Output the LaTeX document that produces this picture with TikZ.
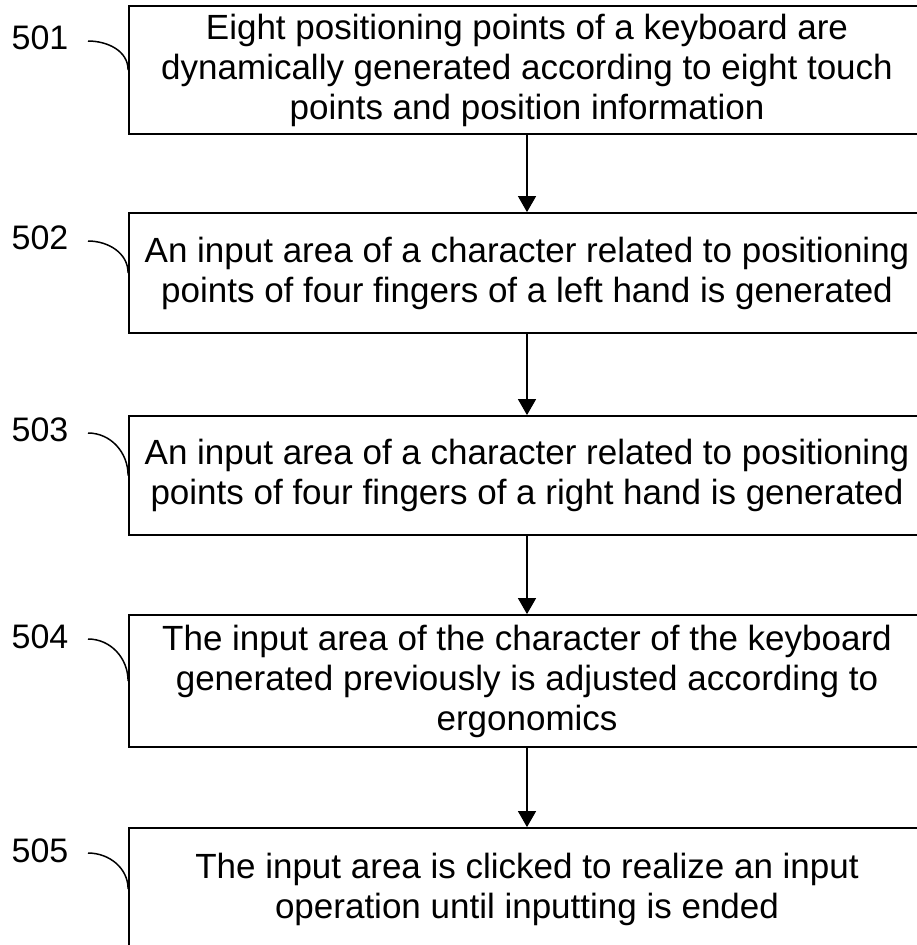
\documentclass[tikz,border=0pt]{standalone}
\usepackage{fontspec}
\setmainfont{Liberation Sans}
\usetikzlibrary{arrows.meta}

\begin{document}
\begin{tikzpicture}[x=1pt,y=-1pt,
  stepbox/.style={draw,line width=1.8pt,minimum width=796pt,align=center,inner sep=0pt,
    font=\fontsize{35}{40}\selectfont},
  steplabel/.style={font=\fontsize{34}{40}\selectfont},
  flow/.style={line width=1.3pt,-{Triangle[length=16pt,width=18pt]}},
  lead/.style={line width=1.5pt}]
\useasboundingbox (0,0) rectangle (916,945);

\node[stepbox,minimum height=128pt] (s1) at (527,70) {Eight positioning points of a keyboard are\\dynamically generated according to eight touch\\points and position information};
\node[stepbox,minimum height=120pt] (s2) at (527,273) {An input area of a character related to positioning\\points of four fingers of a left hand is generated};
\node[stepbox,minimum height=119pt] (s3) at (527,475.5) {An input area of a character related to positioning\\points of four fingers of a right hand is generated};
\node[stepbox,minimum height=132pt] (s4) at (527,681) {The input area of the character of the keyboard\\generated previously is adjusted according to\\ergonomics};
\node[stepbox,minimum height=122pt] (s5) at (527,889) {The input area is clicked to realize an input\\operation until inputting is ended};

\draw[flow] (s1) -- (s2);
\draw[flow] (s2) -- (s3);
\draw[flow] (s3) -- (s4);
\draw[flow] (s4) -- (s5);

\node[steplabel] (l1) at (40,38) {501};
\node[steplabel] (l2) at (40,238) {502};
\node[steplabel] (l3) at (40,430) {503};
\node[steplabel] (l4) at (40,637) {504};
\node[steplabel] (l5) at (40,851) {505};

\coordinate (c1) at (88,41);
\coordinate (c2) at (88,241);
\coordinate (c3) at (88,433);
\coordinate (c4) at (88,639);
\coordinate (c5) at (88,853);

\draw[lead] (c1) to[out=0,in=90] (s1.west);
\draw[lead] (c2) to[out=0,in=90] (s2.west);
\draw[lead] (c3) to[out=0,in=90] (s3.west);
\draw[lead] (c4) to[out=0,in=90] (s4.west);
\draw[lead] (c5) to[out=0,in=90] (s5.west);

\end{tikzpicture}
\end{document}
